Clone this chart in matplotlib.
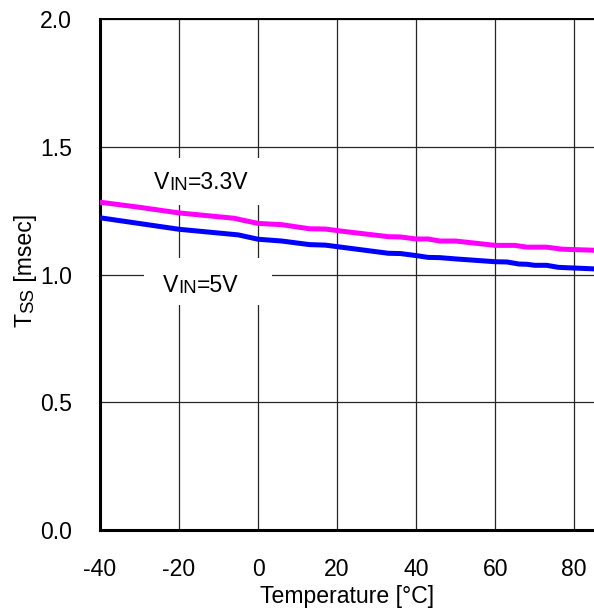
import matplotlib
matplotlib.use('Agg')
import matplotlib.pyplot as plt
from matplotlib.patches import Rectangle

plt.rcParams['font.family'] = ['Liberation Sans', 'DejaVu Sans']
plt.rcParams['axes.unicode_minus'] = False

# -------------------------------- data
temp_33 = [-40, -30, -20, -6, -4, 0, 6, 13, 17, 22, 33, 36, 40, 43, 46, 50,
           60, 65, 68, 73, 77, 85]
tss_33 = [1.283, 1.263, 1.241, 1.220, 1.213, 1.200, 1.195, 1.179, 1.178, 1.168,
          1.148, 1.147, 1.139, 1.139, 1.131, 1.131, 1.114, 1.114, 1.107, 1.107,
          1.099, 1.095]

temp_5 = [-40, -20, -5, 0, 6, 13, 17, 22, 33, 36, 40, 43, 46, 50, 60, 63, 66,
          68, 70, 73, 76, 85]
tss_5 = [1.222, 1.177, 1.155, 1.138, 1.131, 1.117, 1.115, 1.105, 1.083, 1.082,
         1.074, 1.067, 1.066, 1.061, 1.050, 1.049, 1.041, 1.040, 1.036, 1.036,
         1.028, 1.022]

xticks = [-40, -20, 0, 20, 40, 60, 80]
yticks = [0.0, 0.5, 1.0, 1.5, 2.0]

font_size = 16.6
small_size = 13.4

fig = plt.figure(figsize=(5.94, 6.11), dpi=100)
ax = fig.add_axes([100/594, 81/611, 494/594, 511/611])

ax.plot(temp_33, tss_33, color='#ff00ff', lw=3.6, zorder=3, solid_joinstyle='round')
ax.plot(temp_5, tss_5, color='#0000ff', lw=3.6, zorder=3, solid_joinstyle='round')

ax.set_xlim(-40, 85)
ax.set_ylim(0, 2.0)
ax.set_xticks(xticks)
ax.set_yticks(yticks)
ax.set_yticklabels(['%.1f' % v for v in yticks])
ax.tick_params(length=0, labelsize=font_size, pad=20)

ax.set_axisbelow(True)
ax.grid(True, color='0.15', lw=0.9)

ax.spines['right'].set_visible(False)
ax.spines['left'].set_linewidth(2.2)
ax.spines['bottom'].set_linewidth(2.2)
ax.spines['top'].set_linewidth(1.4)

# white boxes behind the curve labels
for y0 in [0.440, 0.636]:
    ax.add_patch(Rectangle((0.089, y0), 0.259, 0.092, transform=ax.transAxes,
                           facecolor='white', edgecolor='none', zorder=1))


def small_caps_label(x, y, parts):
    # big / small text pieces chained along one baseline
    t = ax.text(x, y, parts[0][0], fontsize=parts[0][1], transform=ax.transAxes,
                ha='left', va='baseline', zorder=4)
    for txt, size in parts[1:]:
        t = ax.annotate(txt, xy=(1, 0), xycoords=t, fontsize=size,
                        ha='left', va='bottom', zorder=4)
    return t


small_caps_label(0.109, 0.667, [('V', font_size), ('IN', small_size), ('=3.3V', font_size)])
small_caps_label(0.1275, 0.466, [('V', font_size), ('IN', small_size), ('=5V', font_size)])

ax.set_xlabel('Temperature [°C]', fontsize=font_size, labelpad=3)

# y label: T + small SS + [msec], rotated
t1 = fig.text(37/594, 284/611, 'T', fontsize=font_size, rotation=90,
              ha='right', va='bottom')
t2 = ax.annotate('SS', xy=(1, 1), xycoords=t1, fontsize=small_size, rotation=90,
                 ha='right', va='bottom', annotation_clip=False)
t3 = ax.annotate(' [msec]', xy=(1, 1), xycoords=t2, fontsize=font_size, rotation=90,
                 ha='right', va='bottom', annotation_clip=False)

fig.savefig('out.png', dpi=100)
